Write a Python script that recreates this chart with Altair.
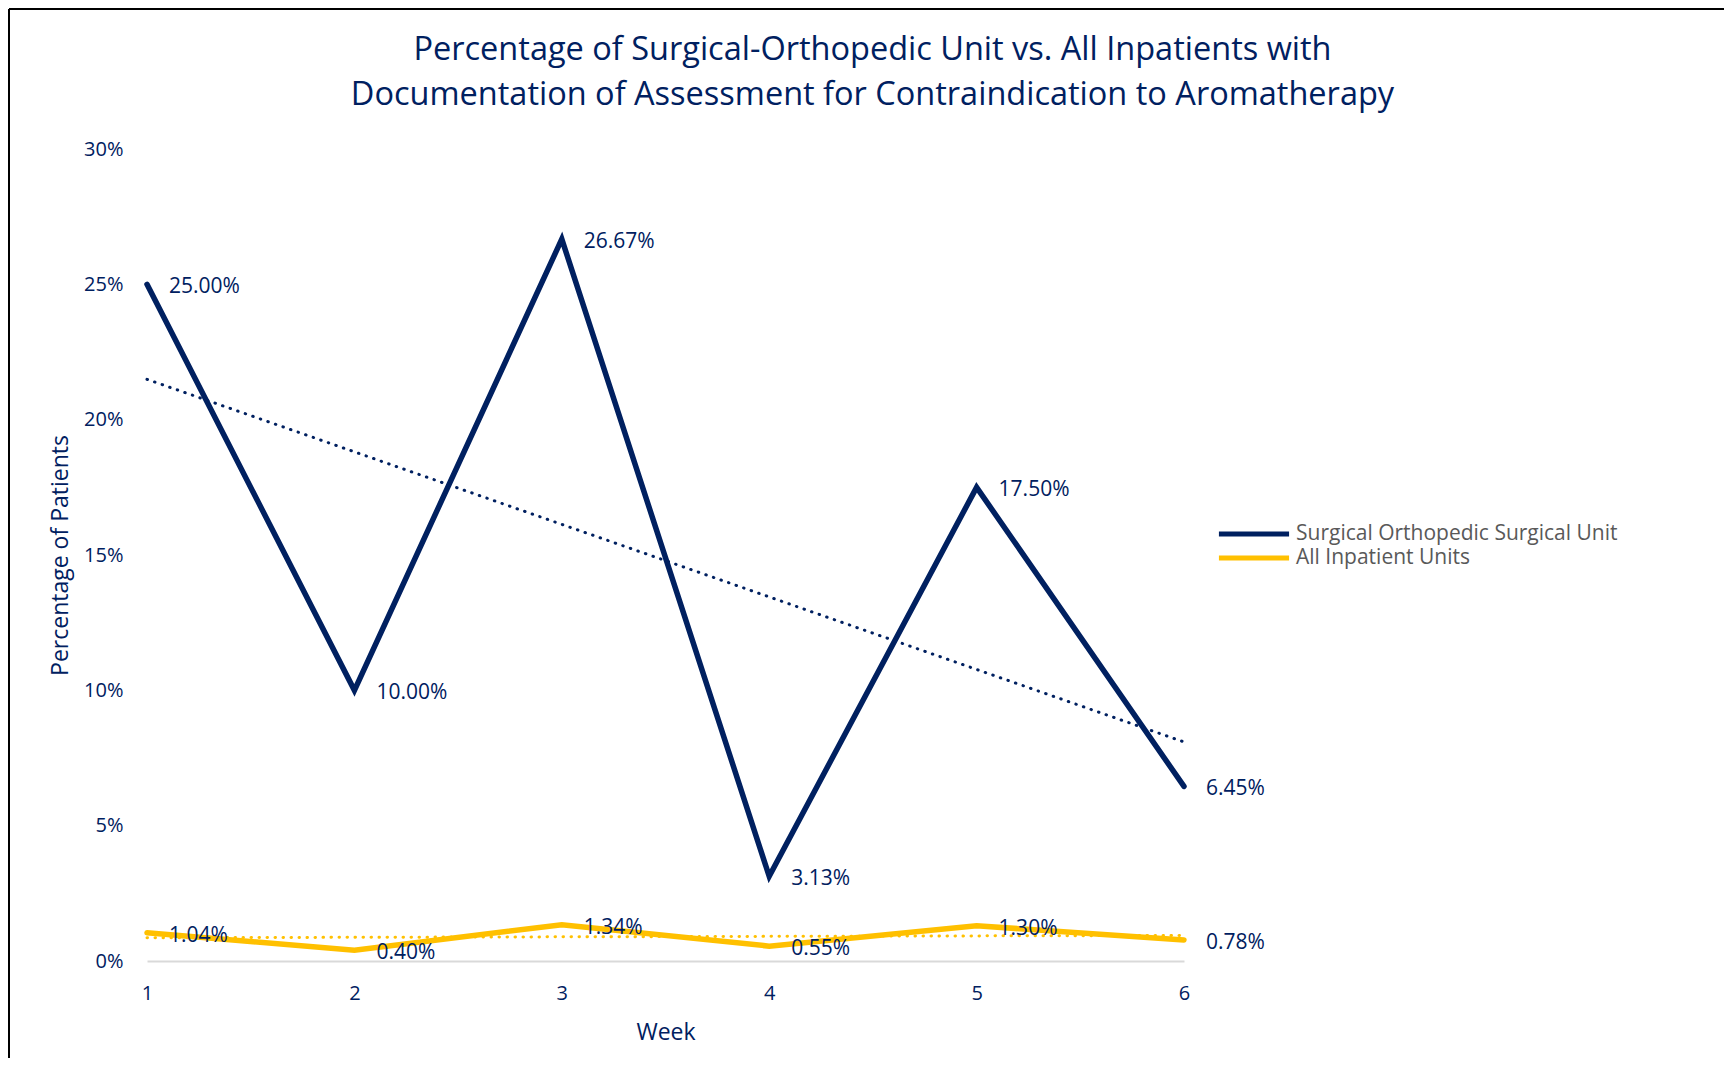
import altair as alt
import pandas as pd

weeks = [1, 2, 3, 4, 5, 6]
series_names = ["Surgical Orthopedic Surgical Unit", "All Inpatient Units"]
surgical_pct = [25.00, 10.00, 26.67, 3.13, 17.50, 6.45]
all_pct = [1.04, 0.40, 1.34, 0.55, 1.30, 0.78]
y_ticks = [0, 5, 10, 15, 20, 25, 30]
title_lines = [
    "Percentage of Surgical-Orthopedic Unit vs. All Inpatients with",
    "Documentation of Assessment for Contraindication to Aromatherapy",
]

NAVY = "#002060"
YELLOW = "#FFC000"
FONT = "Open Sans"

rows = []
for name, vals in zip(series_names, [surgical_pct, all_pct]):
    for w, v in zip(weeks, vals):
        rows.append({"week": w, "pct": v, "series": name})
df = pd.DataFrame(rows)

W, H = 1037, 812

x_enc = alt.X(
    "week:Q",
    scale=alt.Scale(domain=[1, 6], nice=False, zero=False),
    axis=alt.Axis(
        title="Week", values=weeks, format="d", grid=False, ticks=False, tickSize=0,
        domainColor="#D9D9D9", domainWidth=2, labelFlush=False,
        labelFont=FONT, labelFontSize=20, labelColor=NAVY,
        labelBaseline="middle", labelPadding=32,
        titleFont=FONT, titleFontSize=23, titleFontWeight="normal", titleColor=NAVY,
        titleX=W / 2, titleY=71, titleBaseline="middle", titleAlign="center",
    ),
)
y_enc = alt.Y(
    "pct:Q",
    scale=alt.Scale(domain=[0, 30], nice=False),
    axis=alt.Axis(
        title="Percentage of Patients", values=y_ticks, labelExpr="datum.value + '%'",
        grid=False, ticks=False, tickSize=0, domain=False,
        labelFont=FONT, labelFontSize=20, labelColor=NAVY, labelPadding=24,
        titleFont=FONT, titleFontSize=23, titleFontWeight="normal", titleColor=NAVY,
        titleX=-87, titleY=H / 2, titleBaseline="middle", titleAlign="center", titleAngle=270,
    ),
)
color_enc = alt.Color(
    "series:N",
    scale=alt.Scale(domain=series_names, range=[NAVY, YELLOW]),
    legend=alt.Legend(
        title=None, orient="none", legendX=1093, legendY=371,
        symbolType="M-3.05,0H3.05", symbolSize=529, symbolStrokeWidth=5,
        rowPadding=-2, labelOffset=28, padding=0, labelLimit=600,
        labelFont=FONT, labelFontSize=21, labelColor="#595959",
    ),
)

base = alt.Chart(df)

lines = base.mark_line(strokeWidth=5.5, strokeCap="round", strokeJoin="miter").encode(
    x=x_enc, y=y_enc, color=color_enc
)

trend = base.transform_regression("week", "pct", groupby=["series"]).mark_line(
    strokeWidth=3, strokeDash=[0.5, 7.5], strokeCap="round"
).encode(x="week:Q", y="pct:Q", color=alt.Color("series:N"))

labels = base.transform_calculate(
    label="format(datum.pct, '.2f') + '%'"
).mark_text(
    align="left", baseline="middle", dx=22, dy=3, font=FONT, fontSize=21, color=NAVY
).encode(x="week:Q", y="pct:Q", text="label:N")

border_df = pd.DataFrame({"k": [0]})
top_border = alt.Chart(border_df).mark_rule(color="#000000", strokeWidth=2).encode(
    x=alt.value(-138), x2=alt.value(1620), y=alt.value(-140)
)
left_border = alt.Chart(border_df).mark_rule(color="#000000", strokeWidth=2).encode(
    x=alt.value(-138), y=alt.value(-140), y2=alt.value(930)
)

chart = alt.layer(trend, lines, labels, top_border, left_border).properties(
    width=W,
    height=H,
    background="white",
    autosize=alt.AutoSizeParams(type="none"),
    padding={"left": 139, "top": 141, "right": 540, "bottom": 97},
    title=alt.TitleParams(
        text=title_lines, font=FONT, fontSize=32.5, fontWeight="normal", color=NAVY,
        lineHeight=45, anchor="middle", frame="group", dx=207, offset=-103,
    ),
).configure_view(strokeWidth=0)

chart.save("out.html", embed_options={"renderer": "svg", "actions": False})
